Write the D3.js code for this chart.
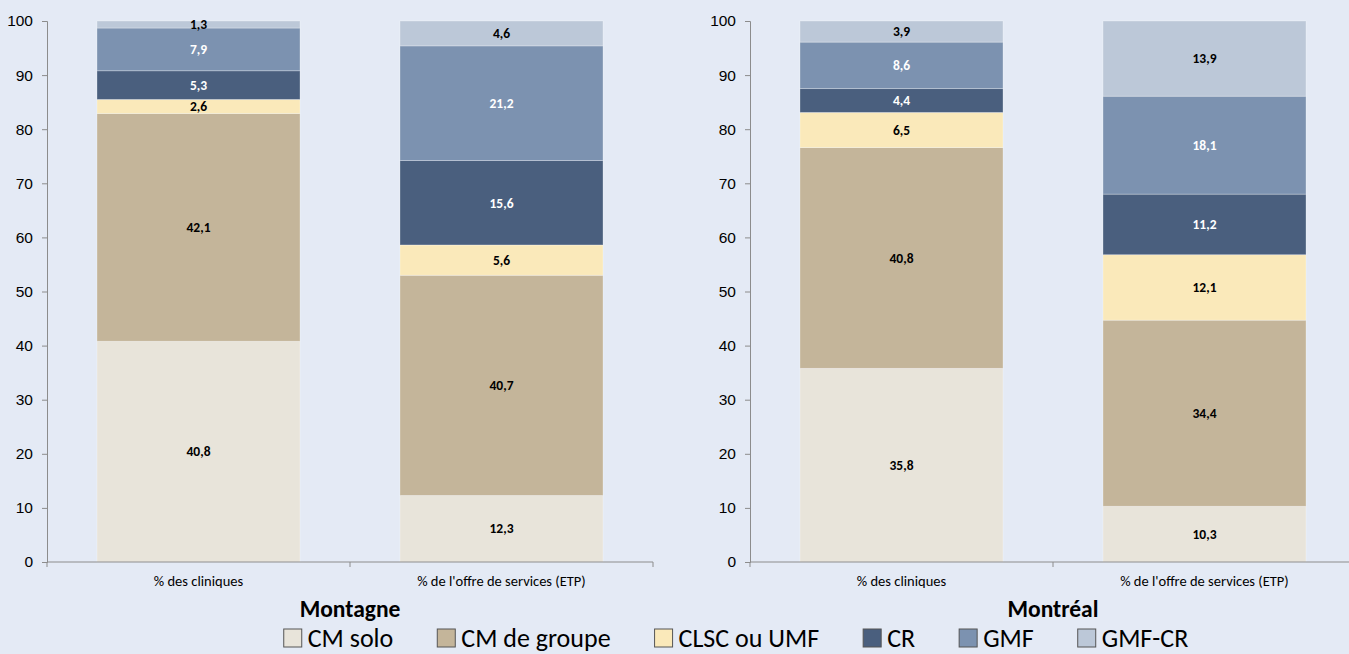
<!DOCTYPE html>
<html>
<head>
<meta charset="utf-8">
<script src="https://cdn.jsdelivr.net/npm/d3@7"></script>
<style>
  html, body { margin: 0; padding: 0; background: #e4eaf5; }
  svg { display: block; font-family: Carlito, Calibri, Lato, sans-serif; }
</style>
</head>
<body>
<svg width="1349" height="654"></svg>
<script>
/* global d3 */

// categories (x) and stacked series
const categories = ['% des cliniques', "% de l'offre de services (ETP)"]
const series = ['CM solo', 'CM de groupe', 'CLSC ou UMF', 'CR', 'GMF', 'GMF-CR']
const colors = ['#e8e4da', '#c4b59a', '#fae9ba', '#4a5f7e', '#7c92b0', '#bcc8d8']
const labelColors = ['#000', '#000', '#000', '#fff', '#fff', '#000']

// values per bar, in series order
const montagneCliniques = [40.8, 42.1, 2.6, 5.3, 7.9, 1.3]
const montagneEtp = [12.3, 40.7, 5.6, 15.6, 21.2, 4.6]
const montrealCliniques = [35.8, 40.8, 6.5, 4.4, 8.6, 3.9]
const montrealEtp = [10.3, 34.4, 12.1, 11.2, 18.1, 13.9]

const yTicks = [0, 10, 20, 30, 40, 50, 60, 70, 80, 90, 100]

const svg = d3.select('svg')
const fmt = v => d3.format('.1f')(v).replace('.', ',')

const panels = [
  { title: 'Montagne', bars: [montagneCliniques, montagneEtp], left: 47, right: 653 },
  { title: 'Montréal', bars: [montrealCliniques, montrealEtp], left: 750, right: 1356 }
]

const y = d3.scaleLinear().domain([0, 100]).range([562, 21])

panels.forEach(p => {
  const g = svg.append('g')

  const x = d3.scaleBand()
    .domain(categories)
    .range([p.left, p.right])
    .paddingInner(0.33)
    .paddingOuter(0.165)

  // build table for d3.stack
  const table = categories.map((c, i) => {
    const row = { cat: c }
    series.forEach((s, j) => { row[s] = p.bars[i][j] })
    return row
  })
  const stacked = d3.stack().keys(series)(table)

  const layer = g.selectAll('g.layer')
    .data(stacked)
    .enter()
    .append('g')
    .attr('class', 'layer')

  layer.selectAll('rect')
    .data((d, i) => d.map(v => ({ v, i })))
    .enter()
    .append('rect')
    .attr('x', d => x(d.v.data.cat))
    .attr('width', x.bandwidth())
    .attr('y', d => y(d.v[1]))
    .attr('height', d => y(d.v[0]) - y(d.v[1]))
    .attr('fill', d => colors[d.i])
    .attr('stroke', 'rgba(255,255,255,0.35)')
    .attr('stroke-width', 0.8)

  layer.selectAll('text')
    .data((d, i) => d.map(v => ({ v, i })))
    .enter()
    .append('text')
    .attr('x', d => x(d.v.data.cat) + x.bandwidth() / 2)
    .attr('y', d => y((d.v[0] + d.v[1]) / 2))
    .attr('dy', '0.35em')
    .attr('text-anchor', 'middle')
    .attr('font-size', 13.5)
    .attr('font-weight', 'bold')
    .attr('fill', d => labelColors[d.i])
    .text(d => fmt(d.v[1] - d.v[0]))

  // y axis
  const yAxis = g.append('g')
    .attr('transform', 'translate(' + p.left + ',0)')
    .call(d3.axisLeft(y).tickValues(yTicks).tickSize(5).tickPadding(9))
  yAxis.selectAll('text').attr('font-size', 15.5).attr('fill', '#000').style('font-family', 'inherit')
  yAxis.selectAll('line, path').attr('stroke', '#8c8c8c')

  // x axis with ticks at band edges
  const xAxisG = g.append('g').attr('transform', 'translate(0,562)')
  xAxisG.append('line')
    .attr('x1', p.left).attr('x2', p.right)
    .attr('stroke', '#8c8c8c')
  const step = (p.right - p.left) / categories.length
  xAxisG.selectAll('line.tick')
    .data(d3.range(categories.length + 1))
    .enter()
    .append('line')
    .attr('class', 'tick')
    .attr('x1', i => p.left + i * step)
    .attr('x2', i => p.left + i * step)
    .attr('y1', 0).attr('y2', 5)
    .attr('stroke', '#8c8c8c')
  xAxisG.selectAll('text')
    .data(categories)
    .enter()
    .append('text')
    .attr('x', c => x(c) + x.bandwidth() / 2)
    .attr('y', 24)
    .attr('text-anchor', 'middle')
    .attr('font-size', 14.5)
    .text(c => c)

  g.append('text')
    .attr('x', (p.left + p.right) / 2)
    .attr('y', 617)
    .attr('text-anchor', 'middle')
    .attr('font-size', 23.5)
    .attr('font-weight', 'bold')
    .text(p.title)
})

// legend
const legend = svg.append('g')
let cx = 0
series.forEach((s, i) => {
  const item = legend.append('g').attr('transform', 'translate(' + cx + ',0)')
  item.append('rect')
    .attr('x', 0).attr('y', 629)
    .attr('width', 18).attr('height', 18)
    .attr('fill', colors[i])
    .attr('stroke', '#555')
    .attr('stroke-width', 1)
  const t = item.append('text')
    .attr('x', 24).attr('y', 647)
    .attr('font-size', 26)
    .text(s)
  cx += 24 + t.node().getComputedTextLength() + 44
})
const legendWidth = cx - 44
legend.attr('transform', 'translate(' + (736 - legendWidth / 2) + ',0)')
</script>
</body>
</html>
